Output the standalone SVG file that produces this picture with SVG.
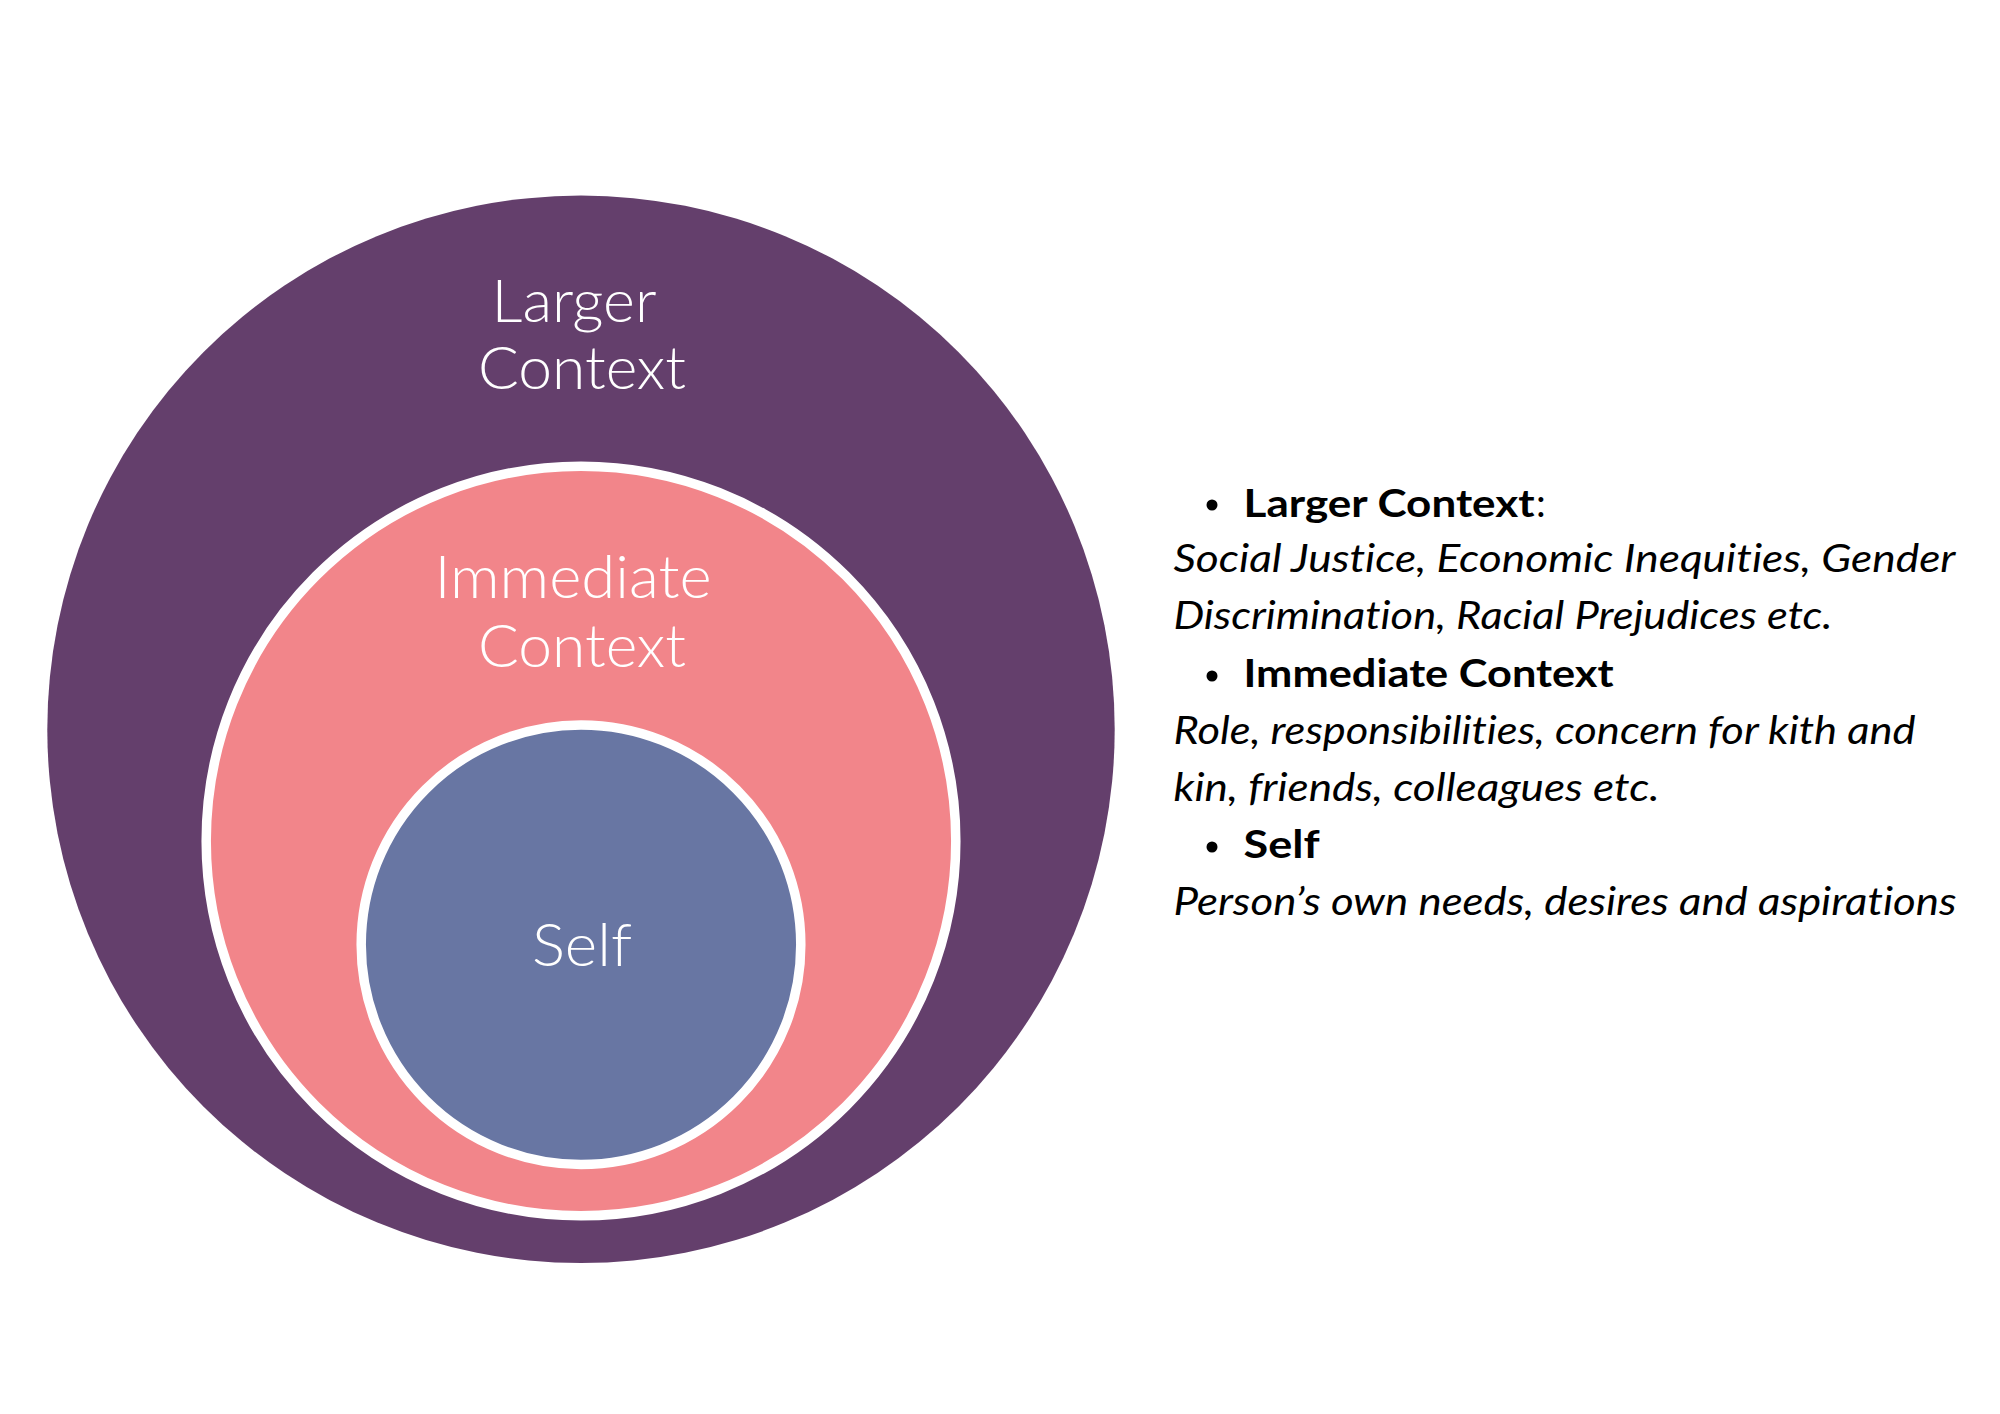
<svg xmlns="http://www.w3.org/2000/svg" width="2000" height="1414" viewBox="0 0 2000 1414">
<style>
text{font-variant-ligatures:none;font-feature-settings:"liga" 0,"dlig" 0}
.lbl{font-family:Lato,"Liberation Sans",sans-serif;font-weight:300;font-size:60px;fill:#ffffff;text-anchor:middle}
.hd{font-family:Lato,"Liberation Sans",sans-serif;font-weight:700;font-size:39px;fill:#000000}
.colon{font-family:Lato,"Liberation Sans",sans-serif;font-weight:400;font-size:39px;fill:#000000}
.it{font-family:Lato,"Liberation Sans",sans-serif;font-style:italic;font-weight:400;font-size:39px;fill:#000000}
.ring{stroke:#ffffff;stroke-width:9.5}
</style>
<rect width="2000" height="1414" fill="#ffffff"/>
<g id="larger-context">
<circle cx="581" cy="729.3" r="533.7" fill="#643F6C"/>
<text class="lbl" x="574" y="321.7" textLength="165" lengthAdjust="spacingAndGlyphs">Larger</text>
<text class="lbl" x="582" y="389.3" textLength="208" lengthAdjust="spacingAndGlyphs">Context</text>
</g>
<g id="immediate-context">
<circle class="ring" cx="581" cy="841" r="374.8" fill="#F2858A"/>
<text class="lbl" x="573" y="598.3" textLength="277" lengthAdjust="spacingAndGlyphs">Immediate</text>
<text class="lbl" x="582" y="666.7" textLength="208" lengthAdjust="spacingAndGlyphs">Context</text>
</g>
<g id="self">
<circle class="ring" cx="581" cy="944.7" r="219.8" fill="#6876A3"/>
<text class="lbl" x="582" y="966" textLength="100" lengthAdjust="spacingAndGlyphs">Self</text>
</g>
<g id="connectors"></g>
<g id="legend">
<circle cx="1212" cy="505" r="5.5" fill="#000000"/>
<text class="hd" x="1243.6" y="516.7" textLength="291" lengthAdjust="spacingAndGlyphs">Larger Context</text>
<text class="colon" x="1536" y="516.7">:</text>
<text class="it" x="1173.5" y="572" textLength="782" lengthAdjust="spacingAndGlyphs">Social Justice, Economic Inequities, Gender</text>
<text class="it" x="1173.5" y="629" textLength="659" lengthAdjust="spacingAndGlyphs">Discrimination, Racial Prejudices etc.</text>
<circle cx="1212" cy="676" r="5.5" fill="#000000"/>
<text class="hd" x="1243.6" y="687" textLength="370" lengthAdjust="spacingAndGlyphs">Immediate Context</text>
<text class="it" x="1173.5" y="744" textLength="742" lengthAdjust="spacingAndGlyphs">Role, responsibilities, concern for kith and</text>
<text class="it" x="1173.5" y="800.5" textLength="486" lengthAdjust="spacingAndGlyphs">kin, friends, colleagues etc.</text>
<circle cx="1212" cy="847" r="5.5" fill="#000000"/>
<text class="hd" x="1243.6" y="858.3" textLength="76" lengthAdjust="spacingAndGlyphs">Self</text>
<text class="it" x="1173.5" y="915" textLength="783" lengthAdjust="spacingAndGlyphs">Person’s own needs, desires and aspirations</text>
</g>
</svg>
